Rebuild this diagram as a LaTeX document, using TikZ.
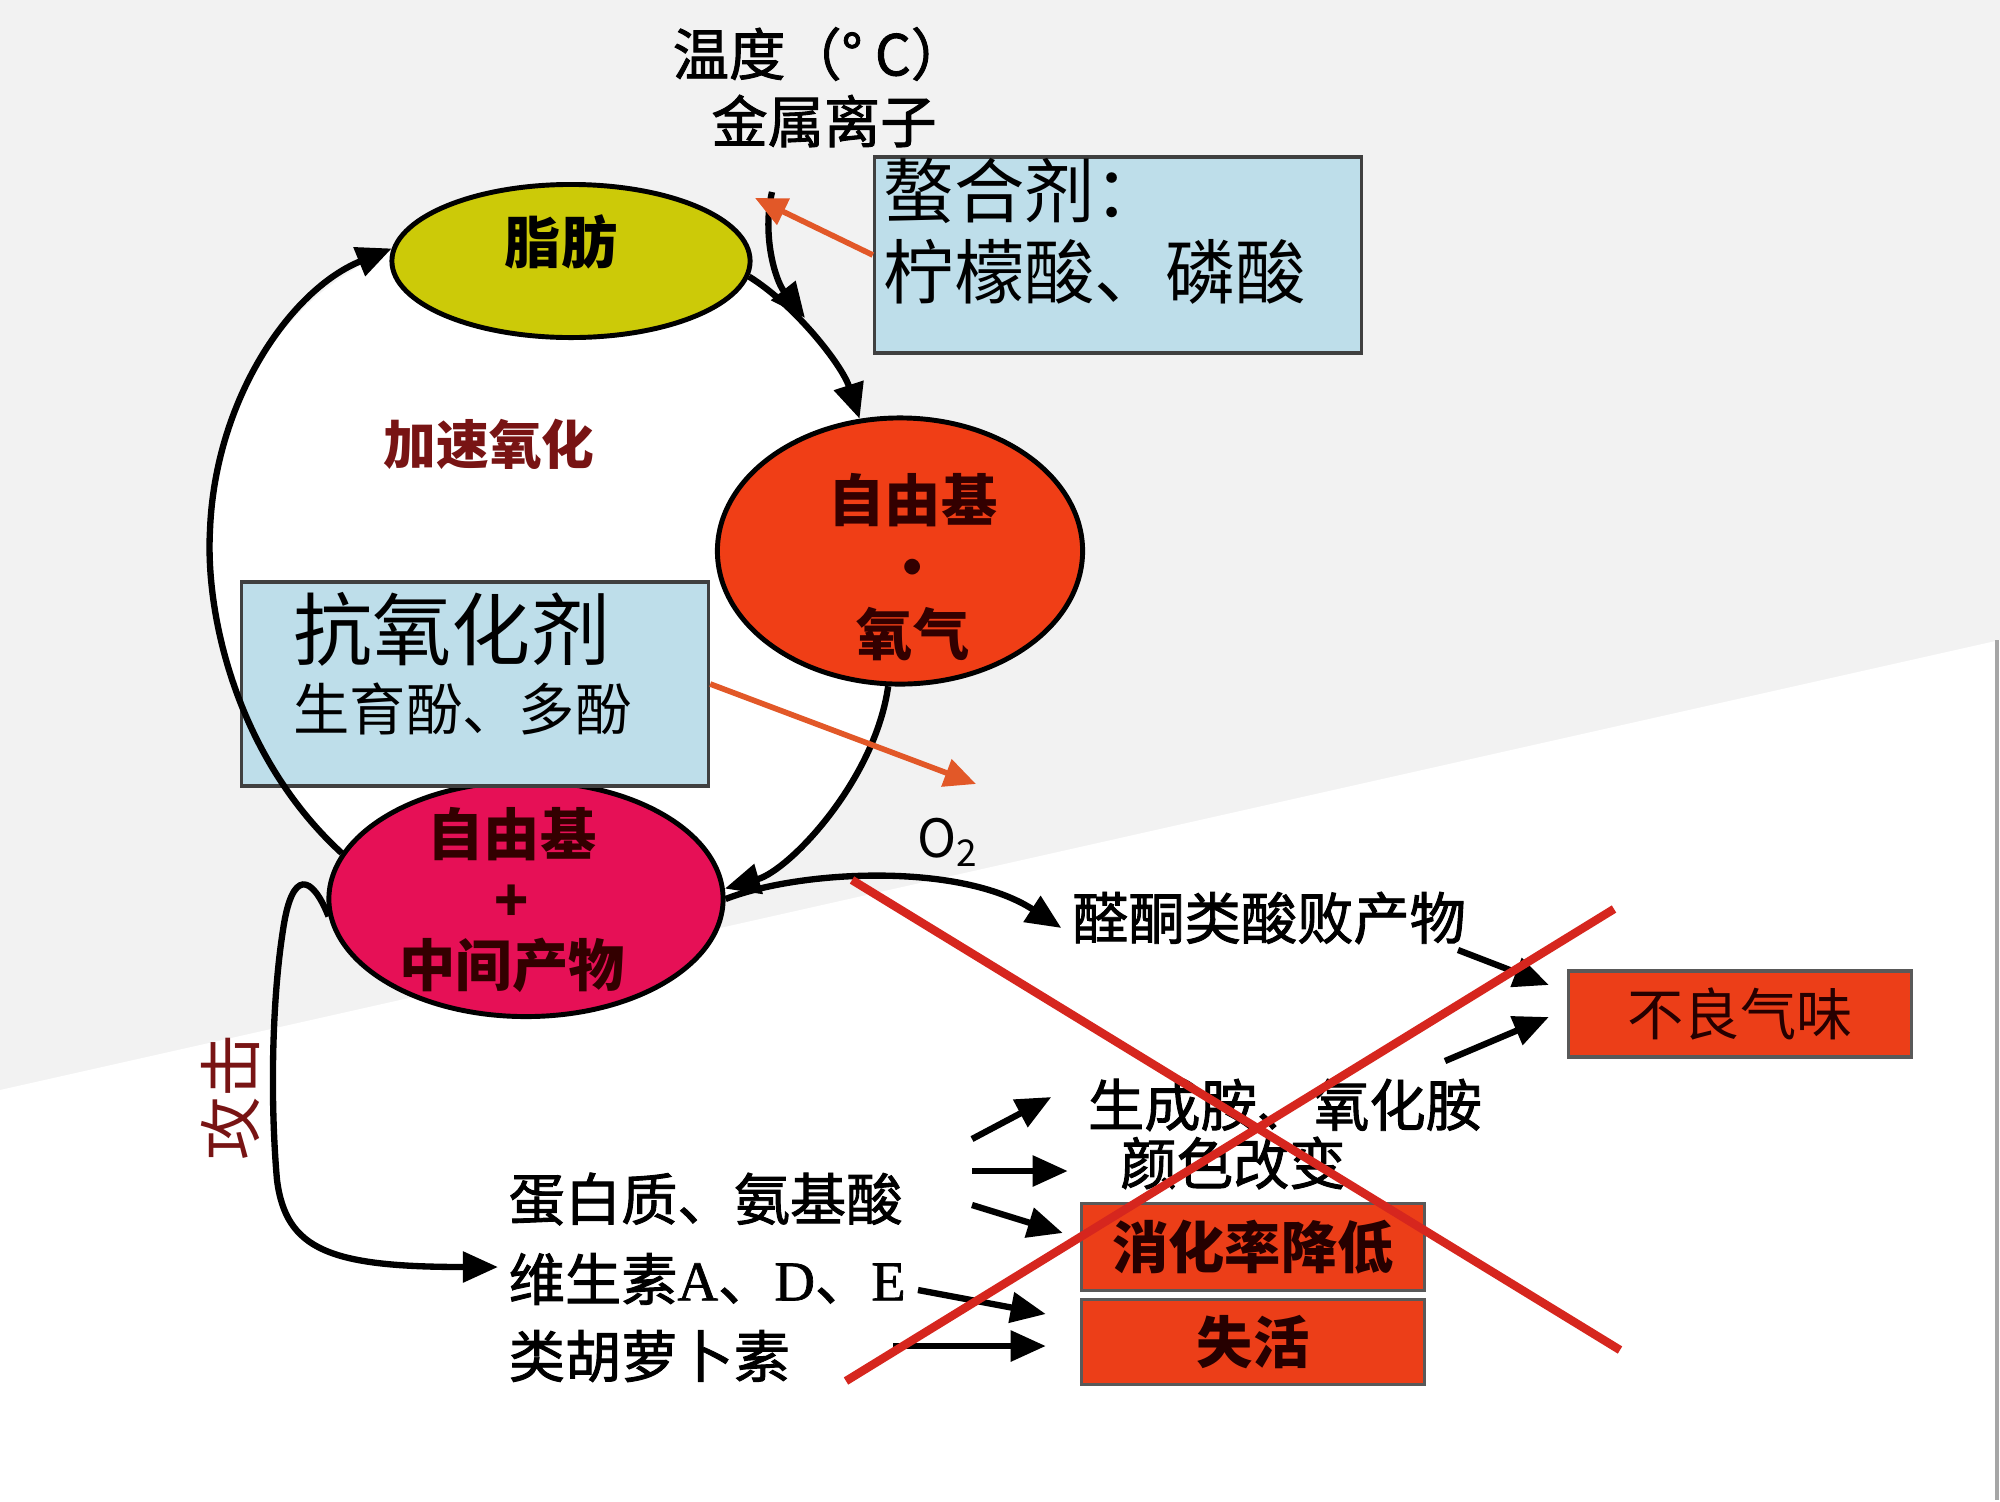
\documentclass[tikz,border=0pt]{standalone}
\usepackage{fontspec}
\setmainfont{Noto Sans CJK SC}
\newfontfamily\heavycjk[FakeBold=1.6]{Noto Sans CJK SC}
\newfontfamily\latinserif[FakeBold=1.2]{Liberation Serif}
\usetikzlibrary{shapes.geometric,arrows.meta,positioning,calc}

\definecolor{fatyellow}{RGB}{204,202,8}
\definecolor{radorange}{RGB}{240,62,22}
\definecolor{radpink}{RGB}{230,16,86}
\definecolor{boxblue}{RGB}{190,222,234}
\definecolor{boxred}{RGB}{236,62,24}
\definecolor{inhorange}{RGB}{226,88,40}
\definecolor{crossred}{RGB}{214,38,30}
\definecolor{darkred}{RGB}{120,20,20}
\definecolor{bggray}{RGB}{242,242,242}

\newcommand{\txtsize}[1]{\fontsize{#1}{#1}\selectfont}

\begin{document}
\begin{tikzpicture}[
    x=0.01cm, y=-0.01cm,
    blob/.style={ellipse, draw, line width=1.4pt, inner sep=0pt},
    blobtext/.style={align=center, inner sep=0pt, font=\txtsize{16pt}\bfseries, text=black!80!red},
    infobox/.style={rectangle, draw=black!75, line width=0.9pt, fill=boxblue, inner sep=0pt},
    resbox/.style={rectangle, draw=black!65, line width=0.9pt, fill=boxred, minimum width=3.43cm, inner sep=0pt, font=\txtsize{16pt}, text=black!85!red},
    txt/.style={inner sep=0pt, font=\txtsize{16pt}},
    heavytxt/.style={inner sep=0pt, font=\txtsize{16pt}\heavycjk},
    flow/.style={-{Triangle[length=10pt,width=8.5pt]}, line width=1.8pt},
    inhib/.style={-{Triangle[length=9pt,width=8pt]}, line width=1.6pt, draw=inhorange},
    cross/.style={line width=2.4pt, draw=crossred}
]

% Background
\fill[bggray] (0,0) rectangle (2000,1500);
\fill[white] (0,1090) -- (2000,640) -- (2000,1500) -- (0,1500) -- cycle;
\fill[white] (344,854) .. controls (240,760) and (205,620) .. (210,530)
    .. controls (215,400) and (290,290) .. (390,252) -- (750,275)
    .. controls (795,305) and (842,365) .. (860,418) -- (889,682)
    .. controls (875,780) and (790,870) .. (723,899) -- cycle;
\draw[gray!70, line width=1pt] (1997,640) -- (1997,1500);

% Oxidation cycle
\node[blob, fill=fatyellow, minimum width=3.58cm, minimum height=1.53cm] (fat) at (571,261) {};
\node[blobtext, text=black] (fatlbl) at (561,242) {脂肪};
\node[blob, fill=radorange, minimum width=3.65cm, minimum height=2.66cm] (radox) at (900,551) {};
\node[blobtext] (radoxlbl) at (913,567) {自由基\\[3pt]·\\[3pt]氧气};
\node[blob, fill=radpink, minimum width=3.94cm, minimum height=2.35cm] (radmid) at (526,899) {};
\node[blobtext] (radmidlbl) at (512,900) {自由基\\[2.5pt]+\\[2.5pt]中间产物};

% Influences
\node[heavytxt] (temp) at (820,54) {温度（° C）};
\node[heavytxt] (metal) at (824,121) {金属离子};
\coordinate (heat) at (772,192);
\node[txt, font=\txtsize{15pt}\bfseries, text=darkred] (accel) at (489,444) {加速氧化};
\node[txt, font=\txtsize{15pt}] (otwo) at (948,842) {O\textsubscript{2}};

% Inhibitor boxes
\node[infobox, minimum width=4.87cm, minimum height=1.96cm] (chel) at (1118,255) {};
\node[txt, font=\txtsize{20pt}, anchor=west] (chelA) at (883,191) {螯合剂：};
\node[txt, font=\txtsize{20pt}, anchor=west] (chelB) at (883,272) {柠檬酸、磷酸};
\node[infobox, minimum width=4.67cm, minimum height=2.04cm] (anti) at (475,684) {};
\node[txt, font=\txtsize{22.5pt}, anchor=west] (antiA) at (293,629) {抗氧化剂};
\node[txt, anchor=west] (antiB) at (293,709) {生育酚、多酚};

% Products
\node[heavytxt] (ald) at (1269,918) {醛酮类酸败产物};
\node[resbox, minimum height=0.86cm] (smell) at (1740,1014) {不良气味};
\node[heavytxt] (amine) at (1285,1105) {生成胺、氧化胺};
\node[heavytxt] (color) at (1233,1163) {颜色改变};
\node[resbox, minimum height=0.87cm, font=\txtsize{16pt}\bfseries] (digest) at (1253,1247) {消化率降低};
\node[resbox, minimum height=0.85cm, font=\txtsize{16pt}\bfseries] (inact) at (1253,1342) {失活};

% Attacked nutrients
\node[heavytxt, anchor=west] (protein) at (508,1199) {蛋白质、氨基酸};
\node[heavytxt, anchor=west] (vit) at (508,1279) {维生素{\latinserif A}、{\latinserif D}、{\latinserif E}};
\node[heavytxt, anchor=west] (carot) at (508,1356) {类胡萝卜素};
\node[txt, font=\txtsize{18pt}, text=darkred, rotate=90] (attack) at (230,1097) {攻击};

% Cycle arrows
\draw[flow] (fat.-5) .. controls (795,305) and (842,365) .. (radox.107);
\draw[flow] (heat) .. controls (762,235) and (775,280) .. (805,318);
\draw[flow] (radox.-95) .. controls (875,780) and (790,870) .. (radmid.3);
\draw[flow] (radmid.166) .. controls (240,760) and (205,620) .. (210,530)
    .. controls (215,400) and (290,290) .. (fat.176);
\draw[flow] (radmid.0) .. controls (800,870) and (960,862) .. ($(ald.west)+(-10,10)$);
\draw[flow] (radmid.185) .. controls (312,875) and (292,868) .. (283,930)
    .. controls (272,1000) and (270,1100) .. (277,1180)
    .. controls (286,1250) and (330,1267) .. ($(vit.west)+(-10,-12)$);

% Inhibitor arrows
\draw[inhib] (chel.west) -- ($(heat)+(-17,6)$);
\draw[inhib] (anti.east) -- ($(otwo)+(28,-58)$);

% Short arrows
\coordinate (pA) at (972,1139);
\coordinate (pB) at (972,1171);
\coordinate (pC) at (972,1205);
\coordinate (vA) at (918,1290);
\coordinate (cA) at (893,1346);
\coordinate (aA) at (1458,950);
\coordinate (mA) at (1445,1061);
\draw[flow] (pA) -- ($(amine.west)+(-36,-8)$);
\draw[flow] (pB) -- ($(color.west)+(-52,8)$);
\draw[flow] (pC) -- ($(digest.west)+(-17,-14)$);
\draw[flow] (vA) -- ($(inact.west)+(-34,-28)$);
\draw[flow] (cA) -- ($(inact.west)+(-34,4)$);
\draw[flow] (aA) -- ($(smell.west)+(-18,-29)$);
\draw[flow] (mA) -- ($(smell.west)+(-18,3)$);

% Crossing out
\draw[cross] (852,880) -- (1620,1350);
\draw[cross] (846,1381) -- (1614,909);

\end{tikzpicture}
\end{document}
